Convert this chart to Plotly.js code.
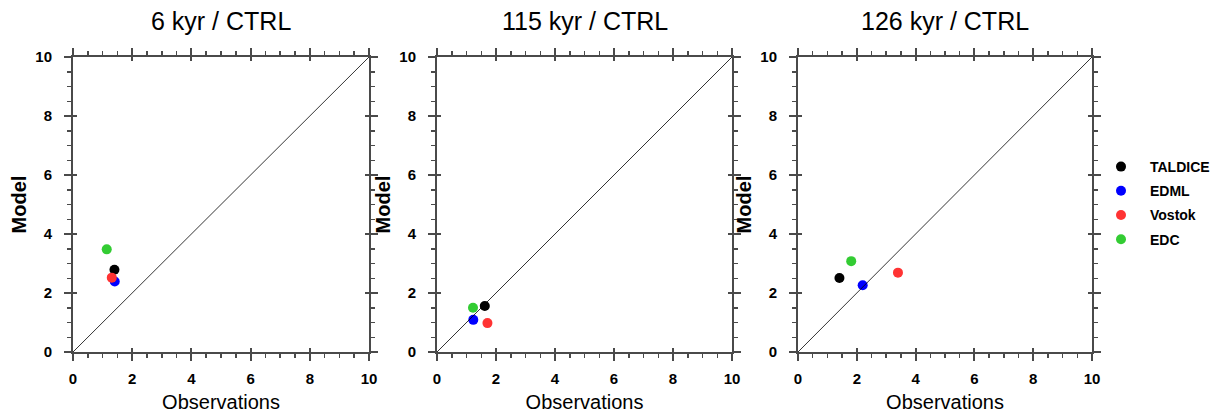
<!DOCTYPE html>
<html>
<head>
<meta charset="utf-8">
<script src="https://cdn.plot.ly/plotly-3.0.1.min.js"></script>
<style>html,body{margin:0;padding:0;background:#fff;}#chart{width:1223px;height:415px;}</style>
</head>
<body>
<div id="chart"></div>
<script>
// ---- data ----
const cores = ["TALDICE", "EDML", "Vostok", "EDC"];
const coreColors = ["#000000", "#0000ff", "#ff3333", "#33cc33"];
const panelTitles = ["6 kyr / CTRL", "115 kyr / CTRL", "126 kyr / CTRL"];
// observations (x) and model (y) for each core, per panel
const obs6 = [1.40, 1.41, 1.31, 1.14];
const mod6 = [2.79, 2.39, 2.52, 3.48];
const obs115 = [1.62, 1.23, 1.71, 1.22];
const mod115 = [1.56, 1.09, 0.98, 1.50];
const obs126 = [1.41, 2.20, 3.40, 1.81];
const mod126 = [2.51, 2.26, 2.69, 3.08];
const diagX = [0, 10];
const diagY = [0, 10];
const tickVals = [0, 2, 4, 6, 8, 10];
const tickText = ["0", "2", "4", "6", "8", "10"];

const panels = [[obs6, mod6], [obs115, mod115], [obs126, mod126]];
const xDomains = [[73/1223, 369/1223], [437/1223, 732/1223], [798/1223, 1092/1223]];
const yDomain = [(415-352)/415, (415-57)/415];

const FONT = "Liberation Sans, Arial, sans-serif";
const AXC = "#4a4a4a";

const traces = [];
const layout = {
  width: 1223, height: 415,
  margin: {l: 0, r: 0, t: 0, b: 0},
  paper_bgcolor: "#fff", plot_bgcolor: "#fff",
  font: {family: FONT, color: "#000"},
  showlegend: true,
  legend: {x: 1092/1223, y: (415-151)/415, xanchor: "left", yanchor: "top",
           font: {family: FONT, size: 14, color: "#000", weight: "bold"},
           tracegroupgap: 3, itemwidth: 48, bgcolor: "rgba(0,0,0,0)"},
  annotations: []
};

function baseAxis(dom, isX, anchor) {
  return {
    domain: dom, range: [0, 10], anchor: anchor,
    showgrid: false, zeroline: false,
    showline: true, linecolor: AXC, linewidth: 2, mirror: "allticks",
    ticks: "outside", ticklen: 7, tickwidth: 2, tickcolor: AXC,
    tickmode: "array", tickvals: tickVals, ticktext: tickText,
    tickfont: {family: FONT, size: 15, color: "#000", weight: "bold"},
    ticklabelstandoff: isX ? 5 : 9,
    minor: {dtick: 0.5, ticks: "outside", ticklen: 4, tickwidth: 1.5, tickcolor: AXC, showgrid: false},
    fixedrange: true
  };
}

panels.forEach((p, i) => {
  const n = i + 1;
  const xa = n === 1 ? "x" : "x" + n;
  const ya = n === 1 ? "y" : "y" + n;
  const xo = "x" + (n + 3);
  const yo = "y" + (n + 3);
  const xk = n === 1 ? "xaxis" : "xaxis" + n;
  const yk = n === 1 ? "yaxis" : "yaxis" + n;

  const xax = baseAxis(xDomains[i], true, ya);
  xax.title = {text: "Observations", font: {family: FONT, size: 20, color: "#000"}, standoff: 9};
  const yax = baseAxis(yDomain, false, xa);
  yax.title = {text: "Model", font: {family: FONT, size: 20, color: "#000", weight: "bold"}, standoff: 3};
  layout[xk] = xax;
  layout[yk] = yax;

  // overlay axes for the inward part of major ticks
  layout["xaxis" + (n + 3)] = {domain: xDomains[i], range: [0, 10], anchor: yo, overlaying: xa,
    showgrid: false, zeroline: false, showline: false, showticklabels: false,
    ticks: "inside", ticklen: 4, tickwidth: 2, tickcolor: AXC, mirror: "allticks",
    tickmode: "array", tickvals: tickVals, fixedrange: true};
  layout["yaxis" + (n + 3)] = {domain: yDomain, range: [0, 10], anchor: xo, overlaying: ya,
    showgrid: false, zeroline: false, showline: false, showticklabels: false,
    ticks: "inside", ticklen: 4, tickwidth: 2, tickcolor: AXC, mirror: "allticks",
    tickmode: "array", tickvals: tickVals, fixedrange: true};

  // 1:1 line
  traces.push({x: diagX, y: diagY, xaxis: xo, yaxis: yo, mode: "lines",
    line: {color: "#000", width: 0.8}, showlegend: false, hoverinfo: "skip", cliponaxis: true});

  cores.forEach((c, k) => {
    traces.push({
      x: [p[0][k]], y: [p[1][k]], xaxis: xa, yaxis: ya,
      mode: "markers", name: c, legendgroup: c,
      marker: {color: coreColors[k], size: 10, line: {width: 0}},
      showlegend: i === 0, cliponaxis: false
    });
  });

  layout.annotations.push({
    text: panelTitles[i], xref: "paper", yref: "paper",
    x: (xDomains[i][0] + xDomains[i][1]) / 2, y: (415 - 21) / 415,
    xanchor: "center", yanchor: "middle", showarrow: false,
    font: {family: FONT, size: 25, color: "#000"}
  });
});

Plotly.newPlot("chart", traces, layout, {displayModeBar: false, staticPlot: true});
</script>
</body>
</html>
